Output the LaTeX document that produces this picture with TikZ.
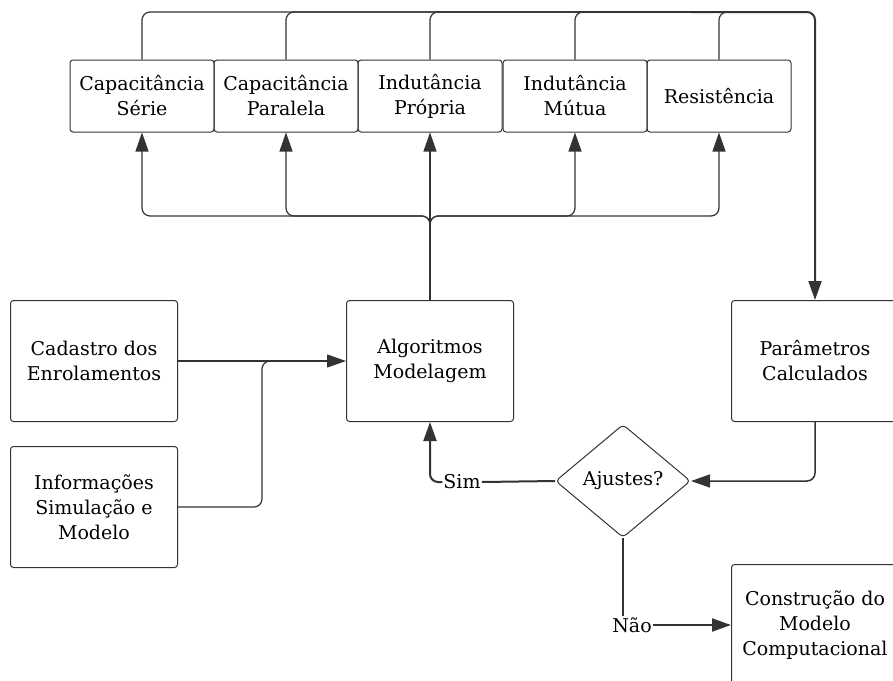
\documentclass[tikz,border=0pt]{standalone}
\usepackage{fontspec}
\setmainfont{DejaVu Serif}
\usetikzlibrary{arrows.meta,shapes.geometric}
\definecolor{ink}{HTML}{333333}
\tikzset{
  txt/.style={font=\fontsize{19}{25}\selectfont},
  box/.style={draw=ink, line width=1pt, rounded corners=3pt, align=center,
    inner sep=0pt, txt, text=black},
  topbox/.style={box, minimum width=144pt, minimum height=72pt},
  bigbox/.style={box, minimum width=167pt, minimum height=121pt},
  link/.style={draw=ink, line width=1.2pt, rounded corners=8pt},
  flow/.style={draw=ink, line width=2pt, rounded corners=8pt},
  tip/.style={-{Triangle[length=19pt,width=13pt]}},
  lbl/.style={inner sep=1pt, txt}
}
\begin{document}
\begin{tikzpicture}[x=1pt,y=-1pt]
\clip (0,0) rectangle (893,680);
\useasboundingbox (0,0) rectangle (893,680);

% parameter blocks
\node[topbox] (cs) at (142,96) {Capacitância\\Série};
\node[topbox] (cp) at (286,96) {Capacitância\\Paralela};
\node[topbox] (ip) at (430,96) {Indutância\\Própria};
\node[topbox] (im) at (575,96) {Indutância\\Mútua};
\node[topbox] (rs) at (719,96) {Resistência};

% main flow blocks
\node[bigbox] (cad) at (94,361) {Cadastro dos\\Enrolamentos};
\node[bigbox] (inf) at (94,507) {Informações\\Simulação e\\Modelo};
\node[bigbox] (alg) at (430,361) {Algoritmos\\Modelagem};
\node[bigbox] (par) at (815,361) {Parâmetros\\Calculados};
\node[bigbox] (con) at (815,625) {Construção do\\Modelo\\Computacional};
\node[draw=ink, line width=1pt, diamond, rounded corners=4pt, aspect=1.2,
      minimum width=135pt, minimum height=113pt, inner sep=0pt, txt] (dia)
      at (623,481) {Ajustes?};
\coordinate (fork) at (430,216);
\coordinate (ridge) at (719,12);

% inputs to the algorithms
\draw[link,tip] (cad.east) -- (alg.west);
\draw[link] (inf.east) -- (262,507) -- (262,361) -- (300,361);

% algorithms feed every parameter block
\draw[flow] (alg.north) -- (430,224);
\draw[link,tip] (alg.north) -- (ip.south);
\draw[link,tip] (alg.north) -- (fork) -- (142,216) -- (cs.south);
\draw[link,tip] (alg.north) -- (fork) -- (286,216) -- (cp.south);
\draw[link,tip] (alg.north) -- (fork) -- (575,216) -- (im.south);
\draw[link,tip] (alg.north) -- (fork) -- (719,216) -- (rs.south);

% parameter blocks gather into the calculated parameters
\draw[link] (cs.north) -- (142,12) -- (700,12);
\draw[link] (cp.north) -- (286,12) -- (700,12);
\draw[link] (ip.north) -- (430,12) -- (700,12);
\draw[link] (im.north) -- (575,12) -- (700,12);
\draw[link] (rs.north) -- (ridge) -- (740,12);
\draw[flow,tip] (690,12) -- (815,12) -- (par.north);

% decision
\draw[link,line width=1.5pt,tip] (par.south) -- (815,481) -- (dia.east);
\node[lbl] (sim) at (462,482) {Sim};
\draw[flow] (dia.west) -- (sim.east);
\draw[flow,tip] (sim.west) -- (430,482) -- (alg.south);
\node[lbl] (nao) at (632,625) {Não};
\draw[flow] (dia.south) -- (dia.south |- nao.north);
\draw[flow,tip] (nao.east) -- (con.west);
\end{tikzpicture}
\end{document}
